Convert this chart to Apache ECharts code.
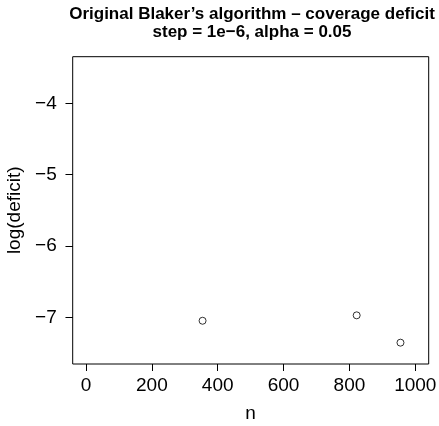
<!DOCTYPE html>
<html><head><meta charset="utf-8">
<script src="https://cdn.jsdelivr.net/npm/echarts@6/dist/echarts.min.js"></script>
<style>html,body{margin:0;padding:0;background:#fff}#c{width:439px;height:426px}</style>
</head><body><div id="c"></div>
<script>
var nValues = [354, 822, 955];
var logDeficit = [-7.048, -6.972, -7.355];
var xTicks = [0, 200, 400, 600, 800, 1000];
var yTicks = [-7, -6, -5, -4];
var titleText = "Original Blaker\u2019s algorithm \u2013 coverage deficit\nstep = 1e\u22126, alpha = 0.05";

var font = "Liberation Sans, Arial, sans-serif";
var hidden = {show: false};
var g = {containLabel: false, outerBoundsMode: 'none'};
function grid(o) { return Object.assign({}, g, o); }
var tickLine = {show: true, showMinLine: true, showMaxLine: true, lineStyle: {color: '#000', width: 1, type: 'solid'}};
var chart = echarts.init(document.getElementById('c'), null, {renderer: 'canvas'});
chart.setOption({
  animation: false,
  backgroundColor: '#fff',
  title: {
    text: titleText,
    left: 252, textAlign: 'center', top: 5, padding: 0,
    textStyle: {fontFamily: font, fontWeight: 'bold', fontSize: 17, lineHeight: 18, color: '#000'}
  },
  grid: [
    grid({left: 72.7, right: 10.3, top: 56.7, bottom: 62, show: true, borderColor: '#000', borderWidth: 1, backgroundColor: 'transparent'}),
    grid({left: 86, right: 23.7, top: 56.7, bottom: 62}),
    grid({left: 72.7, right: 10.3, top: 103.3, bottom: 108.7}),
    grid({left: 86, right: 23.7, top: 364, bottom: 55}),
    grid({left: 65.7, right: 366.3, top: 103.3, bottom: 108.7})
  ],
  xAxis: [
    {gridIndex: 0, type: 'value', min: -40.4, max: 1040.7, show: false},
    {gridIndex: 1, type: 'value', min: xTicks[0], max: xTicks[xTicks.length - 1], interval: 200, position: 'bottom',
      name: 'n', nameLocation: 'middle', nameGap: 40,
      nameTextStyle: {fontFamily: font, fontSize: 19, color: '#000'},
      axisLine: hidden, axisTick: hidden, splitLine: hidden,
      axisLabel: {fontFamily: font, fontSize: 19, color: '#000', margin: 12,
        formatter: function (v) { return String(v); }}},
    {gridIndex: 2, type: 'value', min: 0, max: 1, show: false},
    {gridIndex: 3, type: 'value', min: xTicks[0], max: xTicks[xTicks.length - 1], interval: 200,
      axisLine: hidden, axisTick: hidden, axisLabel: hidden, splitLine: tickLine},
    {gridIndex: 4, type: 'value', min: 0, max: 1, show: false}
  ],
  yAxis: [
    {gridIndex: 0, type: 'value', min: -7.654, max: -3.347, show: false},
    {gridIndex: 1, type: 'value', min: 0, max: 1, show: false},
    {gridIndex: 2, type: 'value', min: yTicks[0], max: yTicks[yTicks.length - 1], interval: 1, position: 'left',
      name: 'log(deficit)', nameLocation: 'middle', nameGap: 46, nameRotate: 90,
      nameTextStyle: {fontFamily: font, fontSize: 19, color: '#000'},
      axisLine: hidden, axisTick: hidden, splitLine: hidden,
      axisLabel: {fontFamily: font, fontSize: 19, color: '#000', margin: 16,
        formatter: function (v) { return String(v).replace('-', '\u2212'); }}},
    {gridIndex: 3, type: 'value', min: 0, max: 1, show: false},
    {gridIndex: 4, type: 'value', min: yTicks[0], max: yTicks[yTicks.length - 1], interval: 1, position: 'left',
      axisLine: {show: true, onZero: false, lineStyle: {color: 'transparent'}},
      axisTick: {show: true, inside: true, length: 7, lineStyle: {color: '#000', width: 1}},
      axisLabel: hidden, splitLine: tickLine}
  ],
  series: [{
    type: 'scatter', xAxisIndex: 0, yAxisIndex: 0,
    data: nValues.map(function (n, i) { return [n, logDeficit[i]]; }),
    symbol: 'circle', symbolSize: 7,
    itemStyle: {color: 'transparent', borderColor: '#000', borderWidth: 1}
  }]
});
</script></body></html>
